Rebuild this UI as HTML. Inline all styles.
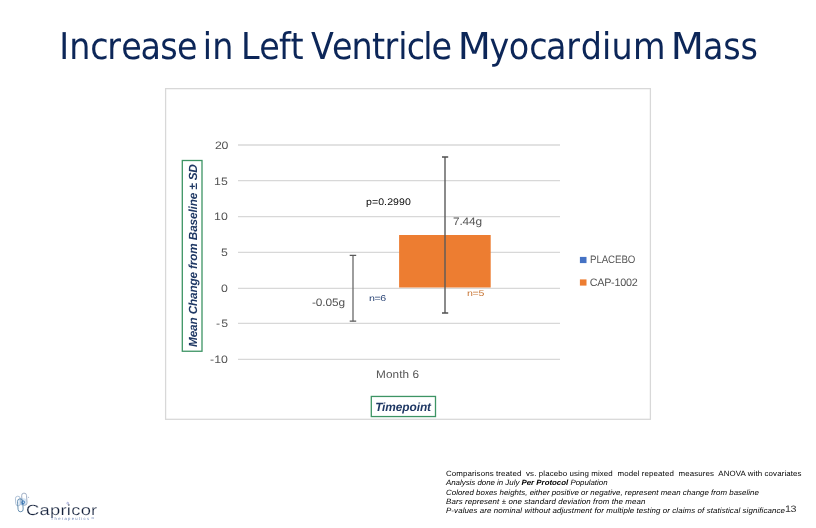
<!DOCTYPE html>
<html lang="en">
<head>
<meta charset="utf-8">
<title>Increase in Left Ventricle Myocardium Mass</title>
<style>
html,body{margin:0;padding:0;background:#fff;}
body{width:816px;height:528px;position:relative;overflow:hidden;font-family:"Liberation Sans",sans-serif;}
#gfx{position:absolute;left:0;top:0;}
#logo{position:absolute;left:0;top:484px;}
.t{position:absolute;white-space:pre;line-height:1;font-family:"Liberation Sans",sans-serif;text-rendering:geometricPrecision;}
#title{position:absolute;left:0;top:0;margin:0;font-weight:normal;font-size:36.9px;line-height:1;}
#titlesvg{position:absolute;left:0;top:0;overflow:visible;}
#titlesvg text{font-family:"DejaVu Sans","Liberation Sans",sans-serif;text-rendering:geometricPrecision;white-space:pre;}
</style>
</head>
<body>
<h1 id="title" aria-label="Increase in Left Ventricle Myocardium Mass"><svg id="titlesvg" width="816" height="80" viewBox="0 0 816 80"><text transform="scale(0.905 1)" x="65.45 76.47 99.64 118.55 133.88 155.30 177.07 195.57 217.65 224.06 234.53 258.26 266.43 286.51 308.38 321.12 335.21 343.68 366.85 388.53 411.14 424.93 440.09 449.36 467.56 476.80 498.60 505.89 540.79 562.07 584.90 603.24 625.74 641.85 665.28 675.66 699.52 735.73 741.05 776.93 799.28 818.25" y="58.7" font-size="36.9" fill="#0c2658">Increase in Left Ventricle <tspan textLength="36.61" lengthAdjust="spacingAndGlyphs">M</tspan>yocardium <tspan textLength="36.61" lengthAdjust="spacingAndGlyphs">M</tspan>ass</text></svg></h1>
<svg id="gfx" width="816" height="528" viewBox="0 0 816 528">
<rect x="165.6" y="88.65" width="484.8" height="330.65" fill="#fff" stroke="#d8d8d8" stroke-width="1.25"/>
<g stroke="#d8d8d8" stroke-width="1.3"><line x1="238" x2="560" y1="145.0" y2="145.0"/><line x1="238" x2="560" y1="180.7" y2="180.7"/><line x1="238" x2="560" y1="216.6" y2="216.6"/><line x1="238" x2="560" y1="252.35" y2="252.35"/><line x1="238" x2="560" y1="288.3" y2="288.3"/><line x1="238" x2="560" y1="323.35" y2="323.35"/><line x1="238" x2="560" y1="359.3" y2="359.3"/></g>
<rect x="399.1" y="235" width="91.6" height="52.5" fill="#ed7d31"/>
<g fill="none">
<path d="M353 255.4V321.2" stroke="#747474" stroke-width="1.4"/>
<path d="M349.7 255.4H356.2M349.7 321.2H356.2" stroke="#5a5a5a" stroke-width="1.3"/>
<path d="M445 157V313" stroke="#5a5a5a" stroke-width="1.4"/>
<path d="M442 157H448.2M442 313H448.2" stroke="#505050" stroke-width="1.4"/>
</g>
<rect x="579.9" y="256.9" width="6.6" height="6.2" fill="#4472c4"/>
<rect x="579.9" y="279.4" width="6.6" height="6.2" fill="#ed7d31"/>
<rect x="182.3" y="160.5" width="19.7" height="190.75" fill="none" stroke="#3d9464" stroke-width="1.3"/>
<rect x="371.3" y="396.45" width="64.2" height="20.1" fill="none" stroke="#3d9464" stroke-width="1.3"/>
</svg>
<div id="yaxis">
<span class="t" id="t0" style="left:215.01px;top:141px;font-size:10.8px;letter-spacing:-0.213px;color:#545454;transform-origin:0 0;transform:scaleX(1.14);">20</span>
<span class="t" id="t1" style="left:213.95px;top:177px;font-size:10.8px;letter-spacing:0.096px;color:#545454;transform-origin:0 0;transform:scaleX(1.14);">15</span>
<span class="t" id="t2" style="left:213.89px;top:212px;font-size:10.8px;letter-spacing:0.033px;color:#545454;transform-origin:0 0;transform:scaleX(1.14);">10</span>
<span class="t" id="t3" style="left:221.02px;top:248px;font-size:10.8px;letter-spacing:0.000px;color:#545454;transform-origin:0 0;transform:scaleX(1.14);">5</span>
<span class="t" id="t4" style="left:220.83px;top:284px;font-size:10.8px;letter-spacing:0.000px;color:#545454;transform-origin:0 0;transform:scaleX(1.14);">0</span>
<span class="t" id="t5" style="left:216.17px;top:319px;font-size:10.8px;letter-spacing:1.000px;color:#545454;transform-origin:0 0;transform:scaleX(1.14);">-5</span>
<span class="t" id="t6" style="left:210.18px;top:355px;font-size:10.8px;letter-spacing:0.070px;color:#545454;transform-origin:0 0;transform:scaleX(1.14);">-10</span>
</div>
<div id="labels">
<span class="t" id="t7" style="left:365.86px;top:198px;font-size:9.6px;letter-spacing:0.067px;color:#0a0a0a;transform-origin:0 0;transform:scaleX(1.1);">p=0.2990</span>
<span class="t" id="t8" style="left:452.85px;top:217px;font-size:10.8px;letter-spacing:-0.129px;color:#545454;transform-origin:0 0;transform:scaleX(1.1);">7.44g</span>
<span class="t" id="t9" style="left:311.67px;top:298px;font-size:10.8px;letter-spacing:-0.093px;color:#545454;transform-origin:0 0;transform:scaleX(1.1);">-0.05g</span>
<span class="t" id="t10" style="left:368.60px;top:294px;font-size:8.5px;letter-spacing:-0.300px;color:#2a4475;transform-origin:0 0;transform:scaleX(1.25);">n=6</span>
<span class="t" id="t11" style="left:467.11px;top:289px;font-size:8.5px;letter-spacing:-0.257px;color:#c9793a;transform-origin:0 0;transform:scaleX(1.25);">n=5</span>
<span class="t" id="t12" style="left:375.95px;top:370px;font-size:11.1px;letter-spacing:0.079px;color:#545454;transform-origin:0 0;transform:scaleX(1.06);">Month 6</span>
<span class="t" id="t13" style="left:590.03px;top:255px;font-size:10.8px;letter-spacing:-0.108px;color:#545454;transform-origin:0 0;transform:scaleX(0.9);">PLACEBO</span>
<span class="t" id="t14" style="left:589.69px;top:278px;font-size:10.8px;letter-spacing:-0.266px;color:#545454;">CAP-1002</span>
<span class="t" id="t15" style="left:375.13px;top:402px;font-size:11.9px;letter-spacing:-0.079px;color:#1f3864;font-weight:bold;font-style:italic;">Timepoint</span>
<span class="t" id="t16" style="left:187.60px;top:347.40px;font-size:11.8px;letter-spacing:-0.156px;color:#1f3864;font-weight:bold;font-style:italic;transform-origin:0 0;transform:rotate(-90deg) scaleX(1.0);">Mean Change from Baseline ± SD</span>
</div>
<div id="notes">
<span class="t" id="t17" style="left:446.46px;top:470px;font-size:7.6px;letter-spacing:0.107px;color:#000;transform-origin:0 0;transform:scaleX(1.04);">Comparisons treated&nbsp; vs. placebo using mixed&nbsp; model repeated&nbsp; measures&nbsp; ANOVA with covariates</span>
<span class="t" id="t18" style="left:446.12px;top:479px;font-size:7.6px;letter-spacing:-0.020px;color:#000;font-style:italic;transform-origin:0 0;transform:scaleX(1.04);">Analysis done in July <b>Per Protocol</b> Population</span>
<span class="t" id="t19" style="left:446.35px;top:489px;font-size:7.6px;letter-spacing:0.028px;color:#000;font-style:italic;transform-origin:0 0;transform:scaleX(1.04);">Colored boxes heights, either positive or negative, represent mean change from baseline</span>
<span class="t" id="t20" style="left:446.05px;top:498px;font-size:7.6px;letter-spacing:0.108px;color:#000;font-style:italic;transform-origin:0 0;transform:scaleX(1.04);">Bars represent ± one standard deviation from the mean</span>
<span class="t" id="t21" style="left:445.96px;top:507px;font-size:7.6px;letter-spacing:0.096px;color:#000;font-style:italic;transform-origin:0 0;transform:scaleX(1.04);">P-values are nominal without adjustment for multiple testing or claims of statistical significance</span>
<span class="t" id="t22" style="left:785.01px;top:504px;font-size:9.4px;letter-spacing:-0.348px;color:#333;transform-origin:0 0;transform:scaleX(1.15);">13</span>
</div>
<div id="brand">
<svg id="logo" width="110" height="44" viewBox="0 0 110 44">
<g fill="none" stroke-width="0.8">
<rect x="18.6" y="14.2" width="8" height="7.4" rx="3" fill="#d6e7f7" stroke="none"/>
<rect x="21.9" y="9.1" width="4.9" height="12.2" rx="2.45" stroke="#8d9fba" transform="rotate(-4 24.3 15.3)"/>
<rect x="15.6" y="12.2" width="4.8" height="9.6" rx="2.4" stroke="#9fb6d0" transform="rotate(-4 18 17)"/>
<rect x="17.8" y="14.8" width="5.1" height="13" rx="2.55" stroke="#4b7ba3" transform="rotate(-4 20.3 21.3)"/>
<circle cx="23.2" cy="18.3" r="1.4" stroke="#2f6fb2" stroke-width="0.9"/>
<path d="M22 18.5V21" stroke="#2f6fb2" stroke-width="0.7"/>
<circle cx="28.6" cy="13.3" r="0.55" fill="#8fa3c4" stroke="none"/>
<circle cx="67.7" cy="19.2" r="0.9" stroke="#8088c8" stroke-width="0.6"/>
</g>
</svg>
<span class="t" id="t23" style="left:26.06px;top:504px;font-size:14.8px;letter-spacing:0.219px;color:#14213b;-webkit-text-stroke:0.2px #fff;transform-origin:0 0;transform:scaleX(1.24);">Capricor</span>
<span class="t" id="t24" style="left:50.77px;top:517px;font-size:4.2px;letter-spacing:1.273px;color:#6f88b8;">Therapeutics™</span>
</div>
</body>
</html>
